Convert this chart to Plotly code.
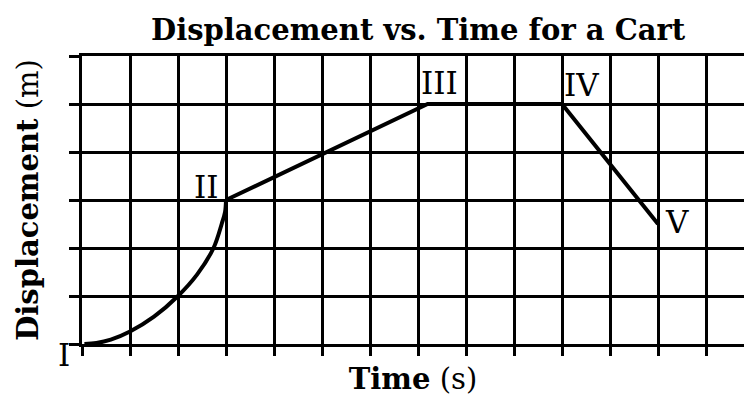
import plotly.graph_objects as go

# Curved segment I -> II (grid units)
curve_t = [0.05, 0.3, 0.6, 1.0, 1.5, 2.0, 2.4, 2.74, 2.91, 2.98, 3.0]
curve_d = [0.0, 0.02, 0.09, 0.26, 0.57, 1.0, 1.45, 2.0, 2.5, 2.75, 3.0]

# Straight segments II -> III -> IV -> V
seg_t = [3.0, 7.2, 10.0, 12.0]
seg_d = [3.0, 5.0, 5.0, 2.5]

# Point labels
label_text = ["I", "II", "III", "IV", "V"]
label_t = [-0.38, 2.6, 7.44, 10.41, 12.4]
label_d = [-0.22, 3.28, 5.43, 5.4, 2.55]

x_ticks = list(range(0, 14))
y_ticks = list(range(0, 7))
x_range = [0, 662 / 48]
y_range = [0, 6]

FONT = "DejaVu Serif"

fig = go.Figure()
fig.add_trace(go.Scatter(x=curve_t, y=curve_d, mode="lines",
                         line=dict(color="black", width=4, shape="spline"),
                         hoverinfo="skip", showlegend=False, cliponaxis=False))
fig.add_trace(go.Scatter(x=seg_t, y=seg_d, mode="lines",
                         line=dict(color="black", width=4),
                         hoverinfo="skip", showlegend=False, cliponaxis=False))

# labels as annotations positioned in axis-domain fractions (so "I" can sit outside the range)
for t, x, y in zip(label_text, label_t, label_d):
    fx = (x - x_range[0]) / (x_range[1] - x_range[0])
    fy = (y - y_range[0]) / (y_range[1] - y_range[0])
    fig.add_annotation(x=fx, y=fy, xref="x domain", yref="y domain", text=t,
                       showarrow=False, xanchor="center", yanchor="middle",
                       font=dict(family=FONT, size=31, color="black"))

fig.update_layout(
    width=744, height=400,
    margin=dict(l=82, r=0, t=56, b=56),
    paper_bgcolor="white", plot_bgcolor="white",
    title=dict(text="<b>Displacement vs. Time for a Cart</b>",
               font=dict(family=FONT, size=29, color="black"),
               x=0.562, xanchor="center", xref="container",
               y=1 - 30 / 400, yanchor="middle", yref="container"),
    xaxis=dict(range=x_range, tickvals=x_ticks, showticklabels=False,
               ticks="outside", ticklen=9, tickwidth=2.5, tickcolor="black",
               showgrid=True, gridcolor="black", gridwidth=2.5,
               showline=True, linecolor="black", linewidth=2.5, mirror=True,
               zeroline=False,
               title=dict(text="<b>Time</b> (s)", standoff=14,
                          font=dict(family=FONT, size=29, color="black"))),
    yaxis=dict(range=y_range, tickvals=y_ticks, showticklabels=False,
               ticks="outside", ticklen=10, tickwidth=2.5, tickcolor="black",
               showgrid=True, gridcolor="black", gridwidth=2.5,
               showline=True, linecolor="black", linewidth=2.5,
               zeroline=False,
               title=dict(text="<b>Displacement</b> (m)", standoff=23,
                          font=dict(family=FONT, size=29, color="black"))),
)

fig.write_html("out.html", config={"displayModeBar": False},
               post_script="document.body.style.margin='0px';")
